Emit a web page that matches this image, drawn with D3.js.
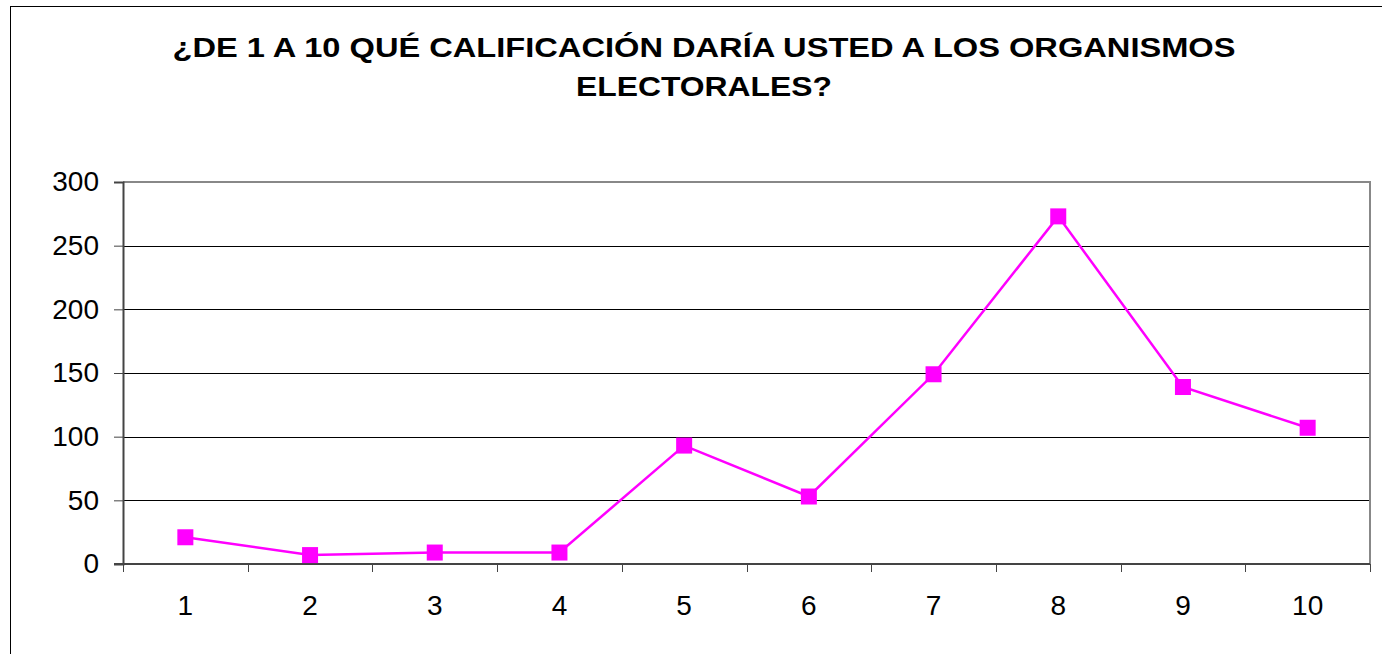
<!DOCTYPE html>
<html>
<head>
<meta charset="utf-8">
<script src="https://cdn.jsdelivr.net/npm/d3@7"></script>
<style>
  body { margin: 0; background: #fff; }
  text { font-family: "Liberation Sans", Arial, sans-serif; }
</style>
</head>
<body>
<svg id="chart" width="1382" height="654"></svg>
<script>
// datos del gráfico
const categories = ["1", "2", "3", "4", "5", "6", "7", "8", "9", "10"];
const values = [21, 7, 9, 9, 93, 53, 149, 273, 139, 107];
const yTicks = [0, 50, 100, 150, 200, 250, 300];
const titleLines = ["¿DE 1 A 10 QUÉ CALIFICACIÓN DARÍA USTED A LOS ORGANISMOS", "ELECTORALES?"];

const svg = d3.select("#chart");
const margin = { left: 123, right: 1370, top: 182, bottom: 564 };

// marco exterior
svg.append("rect")
  .attr("x", 10.5).attr("y", 6.5)
  .attr("width", 1400).attr("height", 700)
  .attr("fill", "none")
  .attr("stroke", "#000")
  .attr("stroke-width", 1);

// título (estirado en horizontal como el original)
const titleWidths = [1063, 256];
svg.append("g").selectAll("text")
  .data(titleLines)
  .join("text")
  .attr("x", 704)
  .attr("y", (d, i) => 57 + i * 39)
  .attr("text-anchor", "middle")
  .attr("font-size", "27px")
  .attr("font-weight", "bold")
  .attr("textLength", (d, i) => titleWidths[i])
  .attr("lengthAdjust", "spacingAndGlyphs")
  .text(d => d);

const x = d3.scaleBand().domain(categories).range([margin.left, margin.right]);
const y = d3.scaleLinear().domain([0, 300]).range([margin.bottom, margin.top]);

// líneas de cuadrícula
svg.append("g").selectAll("line")
  .data(yTicks.filter(t => t > 0 && t < 300))
  .join("line")
  .attr("x1", margin.left).attr("x2", margin.right)
  .attr("y1", d => Math.round(y(d)) + 0.5).attr("y2", d => Math.round(y(d)) + 0.5)
  .attr("stroke", "#000").attr("stroke-width", 1);

// borde superior y derecho
svg.append("path")
  .attr("d", `M${margin.left},${margin.top}H${margin.right}V${margin.bottom}`)
  .attr("fill", "none")
  .attr("stroke", "#888")
  .attr("stroke-width", 2);

// eje Y
const yAxis = svg.append("g")
  .attr("transform", `translate(${margin.left},0)`)
  .call(d3.axisLeft(y).tickValues(yTicks).tickSize(9).tickPadding(15));
yAxis.select(".domain").attr("stroke", "#444").attr("stroke-width", 2);
yAxis.selectAll(".tick line").attr("stroke", "#444");
yAxis.selectAll(".tick text")
  .attr("font-size", "28px")
  .attr("fill", "#000")
  .attr("font-family", "Liberation Sans, Arial, sans-serif");

// eje X
const xTickPos = d3.range(categories.length + 1).map(i => margin.left + i * x.step());
svg.append("line")
  .attr("x1", margin.left - 9).attr("x2", margin.right)
  .attr("y1", margin.bottom).attr("y2", margin.bottom)
  .attr("stroke", "#444").attr("stroke-width", 2);
svg.append("g").selectAll("line")
  .data(xTickPos)
  .join("line")
  .attr("x1", d => Math.round(d) + 0.5).attr("x2", d => Math.round(d) + 0.5)
  .attr("y1", margin.bottom).attr("y2", margin.bottom + 8)
  .attr("stroke", "#444").attr("stroke-width", 1);
svg.append("g").selectAll("text")
  .data(categories)
  .join("text")
  .attr("x", d => x(d) + x.bandwidth() / 2)
  .attr("y", 615)
  .attr("text-anchor", "middle")
  .attr("font-size", "28px")
  .text(d => d);

// serie
const cx = (d, i) => x(categories[i]) + x.bandwidth() / 2;
svg.append("path")
  .datum(values)
  .attr("d", d3.line().x(cx).y(d => y(d)))
  .attr("fill", "none")
  .attr("stroke", "#ff00ff")
  .attr("stroke-width", 2.5);

svg.append("g").selectAll("rect")
  .data(values)
  .join("rect")
  .attr("x", (d, i) => cx(d, i) - 8)
  .attr("y", d => y(d) - 8)
  .attr("width", 16).attr("height", 16)
  .attr("fill", "#ff00ff");
</script>
</body>
</html>
